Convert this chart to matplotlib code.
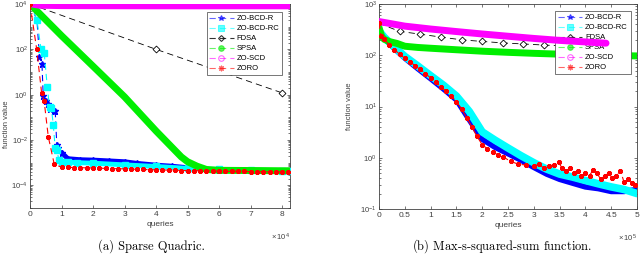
import math

import matplotlib
matplotlib.use("Agg")
import matplotlib.pyplot as plt
from matplotlib.lines import Line2D
from matplotlib.ticker import FixedLocator, LogLocator, NullFormatter, FuncFormatter

plt.rcParams["font.family"] = ["Liberation Sans", "DejaVu Sans"]
plt.rcParams["mathtext.fontset"] = "custom"
plt.rcParams["mathtext.rm"] = "Liberation Sans"
plt.rcParams["mathtext.it"] = "Liberation Sans:italic"
plt.rcParams["mathtext.default"] = "regular"
plt.rcParams["lines.scale_dashes"] = False

names = ["ZO-BCD-R", "ZO-BCD-RC", "FDSA", "SPSA", "ZO-SCD", "ZORO"]
colors = ["#0000ff", "#00ffff", "#000000", "#00ee00", "#ff00ff", "#ff0000"]

# ---- (a) Sparse Quadric, queries in units of 1e4 ----
a_bcdr_x = [0, 0.22, 0.3, 0.38, 0.42, 0.5, 0.58, 0.65, 0.75, 0.8, 0.85, 0.9, 1.0,
            1.2, 1.6, 2.0, 2.5, 3.0, 3.4, 4.0, 4.5, 5.0, 5.5, 6.0, 7.0, 8.0, 8.25]
a_bcdr_y = [1e4, 2e3, 45, 22, 0.9, 0.5, 0.4, 0.24, 0.2, 0.2, 6e-3, 4.5e-3, 2.8e-3,
            1.5e-3, 1.35e-3, 1.3e-3, 1.2e-3, 1.1e-3, 9.3e-4, 7.8e-4, 7e-4, 6e-4, 5.2e-4,
            4.8e-4, 4.6e-4, 4.5e-4, 4.5e-4]
a_bcdrc_x = [0, 0.22, 0.35, 0.45, 0.55, 0.62, 0.68, 0.74, 0.8, 0.85, 0.92, 1.0,
             1.2, 1.5, 2.0, 3.0, 4.0, 5.0, 6.0, 7.0, 8.0, 8.25]
a_bcdrc_y = [1e4, 2e3, 100, 70, 2.1, 0.28, 0.25, 0.045, 4.3e-3, 3.5e-3, 1.3e-3, 1.1e-3,
             1.05e-3, 1e-3, 9.5e-4, 8e-4, 6.8e-4, 5.6e-4, 5e-4, 4.7e-4, 4.5e-4, 4.5e-4]
a_fdsa_x = [0, 4, 8]
a_fdsa_y = [1e4, 100, 1.2]
a_spsa_x = [0, 1, 2, 3, 4, 4.8, 5.0, 5.3, 5.6, 6.0, 7.0, 8.0, 8.25]
a_spsa_y = [1e4, 400, 18, 0.8, 0.025, 1.8e-3, 1.1e-3, 7e-4, 5e-4, 4.6e-4, 4.5e-4, 4.4e-4, 4.4e-4]
a_scd_x = [0, 0.3, 1, 2, 4, 6, 8, 8.25]
a_scd_y = [1e4, 8.5e3, 8.2e3, 8.1e3, 8e3, 8e3, 8e3, 8e3]
a_zoro_x = [0, 0.21, 0.37, 0.45, 0.58, 0.77,
            1.0, 1.2, 1.4, 1.6, 1.8, 2.0, 2.2, 2.4, 2.6, 2.8, 3.0, 3.2, 3.4, 3.6, 3.8,
            4.0, 4.2, 4.4, 4.6, 4.8, 5.0, 5.2, 5.4, 5.6, 5.8, 6.0, 6.2, 6.4, 6.6, 6.8,
            7.0, 7.2, 7.4, 7.6, 7.8, 8.0, 8.2]
a_zoro_y = [1e4, 107, 1.15, 0.5, 0.014, 8.5e-4,
            6.3e-4, 6.2e-4, 6.1e-4, 6.0e-4, 5.9e-4, 5.8e-4, 5.7e-4, 5.6e-4, 5.5e-4, 5.4e-4,
            5.3e-4, 5.2e-4, 5.1e-4, 5.0e-4, 4.9e-4, 4.8e-4, 4.7e-4, 4.7e-4, 4.6e-4, 4.5e-4,
            4.5e-4, 4.4e-4, 4.4e-4, 4.3e-4, 4.3e-4, 4.2e-4, 4.2e-4, 4.1e-4, 4.1e-4, 4.1e-4,
            4.0e-4, 4.0e-4, 4.0e-4, 3.9e-4, 3.9e-4, 3.9e-4, 3.9e-4]

# ---- (b) Max-s-squared-sum, queries in units of 1e5 ----
b_bcdr_x = [0, 0.05, 0.1, 0.25, 0.5, 0.75, 1.0, 1.25, 1.5, 1.75, 2.0, 2.25, 2.5,
            2.75, 3.0, 3.25, 3.5, 3.75, 4.0, 4.25, 4.5, 4.75, 5.0]
b_bcdr_y = [290, 250, 215, 150, 88, 55, 35, 22, 13.5, 5.5, 2.3, 1.6, 1.2,
            0.9, 0.65, 0.48, 0.38, 0.32, 0.27, 0.25, 0.22, 0.22, 0.24]
b_bcdrc_x = b_bcdr_x
b_bcdrc_y = [300, 260, 225, 160, 95, 62, 40, 26, 16, 8.0, 3.2, 2.2, 1.55,
             1.1, 0.8, 0.6, 0.48, 0.42, 0.36, 0.31, 0.27, 0.24, 0.2]
b_fdsa_x = [0, 0.4, 0.8, 1.2, 1.6, 2.0, 2.4, 2.8, 3.2, 3.6, 4.0, 4.4]
b_fdsa_y = [420, 292, 258, 226, 200, 186, 174, 166, 158, 152, 147, 142]
b_spsa_x = [0, 0.05, 0.1, 0.2, 0.35, 0.5, 0.75, 1.0, 1.5, 2.0, 2.5, 3.0, 3.5, 4.0, 4.5, 5.0]
b_spsa_y = [350, 235, 205, 185, 170, 150, 142, 137, 128, 120, 114, 109, 105, 102, 99, 97]
b_scd_x = [0, 0.5, 1.0, 1.5, 2.0, 2.5, 3.0, 3.5, 4.0, 4.4]
b_scd_y = [455, 370, 325, 290, 260, 235, 213, 195, 182, 172]
b_zoro_x = [0, 0.04, 0.1, 0.2, 0.3, 0.4, 0.5, 0.6, 0.7, 0.8, 0.9, 1.0, 1.1, 1.2, 1.3,
            1.4, 1.5, 1.6, 1.7, 1.8, 1.9, 2.0, 2.1, 2.2, 2.3, 2.4, 2.55, 2.7, 2.85,
            3.0, 3.1, 3.2, 3.3, 3.4, 3.48, 3.55, 3.62, 3.7, 3.78, 3.85, 3.92, 4.0, 4.08,
            4.15, 4.22, 4.3, 4.38, 4.45, 4.52, 4.6, 4.68, 4.75, 4.82, 4.9, 4.97]
b_zoro_y = [430, 240, 205, 160, 128, 105, 87, 74, 63, 53, 44, 36, 30, 24, 20,
            16, 12.5, 9, 6, 4, 2.6, 1.8, 1.5, 1.3, 1.15, 1.05, 0.85, 0.75, 0.72,
            0.68, 0.75, 0.62, 0.7, 0.72, 0.82, 0.62, 0.56, 0.62, 0.5, 0.55, 0.45, 0.5, 0.45,
            0.58, 0.5, 0.38, 0.45, 0.5, 0.4, 0.45, 0.56, 0.33, 0.38, 0.32, 0.3]

DASH = (4.5, 3)
star = "*"
asterisk = (8, 2, 0)


def setup_axes(ax, xmax, xticks, xticklabels, ylim, yticks, scale_txt):
    ax.set_yscale("log")
    ax.set_xlim(0, xmax)
    ax.set_ylim(*ylim)
    ax.set_xticks(xticks)
    ax.set_xticklabels(xticklabels)
    ax.yaxis.set_major_locator(FixedLocator(yticks))
    ax.yaxis.set_major_formatter(FuncFormatter(lambda v, p: r"$10^{%d}$" % round(math.log10(v))))
    ax.yaxis.set_minor_locator(LogLocator(base=10, subs=range(1, 10), numticks=50))
    ax.yaxis.set_minor_formatter(NullFormatter())
    ax.tick_params(which="both", direction="in", top=True, right=True,
                   labelsize=6, colors="#404040", length=2.5, width=0.5, pad=2.5)
    ax.tick_params(axis="y", labelsize=5.5, pad=1.5)
    ax.tick_params(which="minor", length=1.5)
    for sp in ax.spines.values():
        sp.set_color("#404040")
        sp.set_linewidth(0.6)
    ax.set_xlabel("queries", fontsize=6, color="#404040", labelpad=2)
    ax.set_ylabel("function value", fontsize=5.5, color="#404040", labelpad=1)
    ax.text(1.0, -0.115, scale_txt, transform=ax.transAxes, ha="right", va="top",
            fontsize=5.5, color="#404040")


def legend(ax, x0, y0):
    markers = [(star, True), ("s", True), ("D", False), ("o", True), ("o", False), (asterisk, True)]
    handles = []
    for c, (m, filled) in zip(colors, markers):
        handles.append(Line2D([], [], color=c, ls="--", dashes=DASH, lw=0.8, alpha=0.6 if c != "#000000" else 0.8,
                              marker=m, ms=4 if m != "D" else 3,
                              markerfacecolor=(c if filled else "none"), markeredgecolor=c, mew=0.8))
    leg = ax.legend(handles, names, loc="upper right", bbox_to_anchor=(x0, y0), fontsize=5.5,
                    handlelength=3.2, handletextpad=0.4, borderpad=0.35, labelspacing=0.35,
                    fancybox=False, framealpha=1, edgecolor="#404040", borderaxespad=0)
    leg.get_frame().set_linewidth(0.5)


fig = plt.figure(figsize=(6.4, 2.58), dpi=100)

# left panel
ax1 = fig.add_axes([30 / 640, 1 - 208 / 258, 260 / 640, 204 / 258])
ax1.plot(a_bcdr_x, a_bcdr_y, ls="--", dashes=DASH, lw=0.8, color=colors[0],
         marker=star, ms=5, zorder=2)
ax1.plot(a_bcdr_x[12:], a_bcdr_y[12:], lw=3.5, color=colors[0], solid_capstyle="round", zorder=2)
ax1.plot(a_bcdrc_x, a_bcdrc_y, ls="--", dashes=DASH, lw=0.8, color=colors[1],
         marker="s", ms=4, zorder=3)
ax1.plot(a_bcdrc_x[11:], a_bcdrc_y[11:], lw=3.5, color=colors[1], solid_capstyle="round", zorder=3)
ax1.plot(a_fdsa_x, a_fdsa_y, ls="--", dashes=DASH, lw=0.6, color=colors[2],
         marker="D", ms=3.5, mfc="white", mew=0.6, zorder=4)
ax1.plot(a_spsa_x, a_spsa_y, lw=5, color=colors[3], solid_capstyle="round", zorder=5)
ax1.plot(a_scd_x, a_scd_y, lw=4.5, color=colors[4], solid_capstyle="round", zorder=6)
ax1.plot(a_zoro_x, a_zoro_y, ls="--", dashes=DASH, lw=0.8, color=colors[5],
         marker=asterisk, ms=3.5, mew=1.3, zorder=7)
setup_axes(ax1, 8.25, range(0, 9), [str(i) for i in range(0, 9)],
           (1e-5, 1e4), [1e-4, 1e-2, 1e0, 1e2, 1e4], r"$\times\,10^4$")
ax1.yaxis.set_label_coords(-0.078, 0.41)
legend(ax1, 0.97, 0.96)

# right panel
ax2 = fig.add_axes([379 / 640, 1 - 209 / 258, 258 / 640, 205 / 258])
ax2.plot(b_bcdr_x, b_bcdr_y, lw=4, color=colors[0], solid_capstyle="round", zorder=2)
ax2.plot(b_bcdrc_x, b_bcdrc_y, lw=5.5, color=colors[1], solid_capstyle="round", zorder=3)
ax2.plot(b_fdsa_x, b_fdsa_y, ls="--", dashes=DASH, lw=0.6, color=colors[2],
         marker="D", ms=3.5, mfc="white", mew=0.6, zorder=4)
ax2.plot(b_spsa_x, b_spsa_y, lw=5, color=colors[3], solid_capstyle="round", zorder=5)
ax2.plot(b_scd_x, b_scd_y, lw=5, color=colors[4], solid_capstyle="round", zorder=6)
ax2.plot(b_zoro_x, b_zoro_y, ls="--", dashes=DASH, lw=0.8, color=colors[5],
         marker=asterisk, ms=3.5, mew=1.3, zorder=7)
xt = [0, 0.5, 1, 1.5, 2, 2.5, 3, 3.5, 4, 4.5, 5]
setup_axes(ax2, 5, xt, ["0", "0.5", "1", "1.5", "2", "2.5", "3", "3.5", "4", "4.5", "5"],
           (1e-1, 1e3), [1e-1, 1e0, 1e1, 1e2, 1e3], r"$\times\,10^5$")
ax2.yaxis.set_label_coords(-0.1, 0.5)
legend(ax2, 0.975, 0.965)

# captions
fig.text(152 / 640, 1 - 246 / 258, "(a) Sparse Quadric.", ha="center", va="center",
         fontsize=9, family="cmr10")
fig.text(502 / 640, 1 - 246 / 258, "(b) Max-$s$-squared-sum function.", ha="center", va="center",
         fontsize=9, family="cmr10", math_fontfamily="cm")

fig.savefig("out.png", dpi=100)
